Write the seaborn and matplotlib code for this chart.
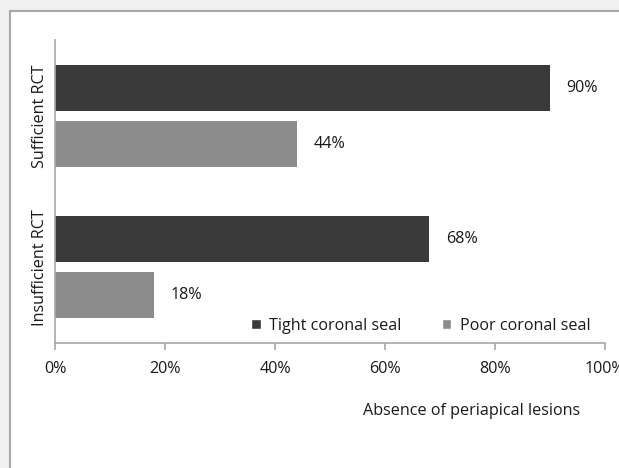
import matplotlib
matplotlib.use("Agg")
import matplotlib.pyplot as plt
from matplotlib.patches import Rectangle
import pandas as pd
import seaborn as sns

# Data: share of teeth without periapical lesions
treatments = ["Sufficient RCT", "Insufficient RCT"]
seal_types = ["Tight coronal seal", "Poor coronal seal"]
tight_values = [90, 68]
poor_values = [44, 18]
x_ticks = [0, 20, 40, 60, 80, 100]

rows = []
for t, tv, pv in zip(treatments, tight_values, poor_values):
    rows.append({"treatment": t, "seal": seal_types[0], "value": tv})
    rows.append({"treatment": t, "seal": seal_types[1], "value": pv})
df = pd.DataFrame(rows)

sns.set_theme(style="white")
plt.rcParams["font.family"] = ["Open Sans", "DejaVu Sans"]

FS = 11.6
TXT = "#1a1a1a"
W, H = 619, 468
fig = plt.figure(figsize=(W / 100, H / 100), dpi=100)
fig.patch.set_facecolor("#f0f0f0")

# white framed panel
panel = Rectangle((9.5 / W, -0.1), 1.2, 1 - 10.5 / H + 0.1,
                  transform=fig.transFigure, facecolor="white",
                  edgecolor="#a8a8a8", linewidth=1.5, zorder=-10)
fig.patches.append(panel)

ax = fig.add_axes([55 / W, 1 - 343 / H, 550 / W, 303 / H])
ax.set_facecolor("none")

palette = {seal_types[0]: "#3a3a3a", seal_types[1]: "#8c8c8c"}
sns.barplot(data=df, y="treatment", x="value", hue="seal", order=treatments,
            hue_order=seal_types, palette=palette, orient="h",
            width=0.739, gap=0.179, saturation=1, ax=ax, legend=False,
            edgecolor="none")

ax.set_xlim(0, 100)
ax.set_ylim(1.5, -0.5)
ax.set_xticks(x_ticks)
ax.set_xticklabels([f"{v}%" for v in x_ticks])
ax.set_xlabel("")
ax.set_ylabel("")

for s in ["top", "right"]:
    ax.spines[s].set_visible(False)
for s in ["left", "bottom"]:
    ax.spines[s].set_color("#a8a8a8")
    ax.spines[s].set_linewidth(1.2)

ax.tick_params(axis="x", bottom=True, length=5, width=1.2, color="#a8a8a8",
               pad=8, labelsize=FS, labelcolor=TXT)
ax.tick_params(axis="y", left=False, length=0, pad=5, labelsize=FS,
               labelcolor=TXT, labelrotation=90)
for lbl in ax.get_yticklabels():
    lbl.set_va("center")

# value labels
for cont in ax.containers:
    for bar in cont:
        v = bar.get_width()
        ax.annotate(f"{v:.0f}%", (v, bar.get_y() + bar.get_height() / 2),
                    xytext=(12, 0), textcoords="offset points",
                    va="center", ha="left", fontsize=FS, color=TXT)

# legend
handles = [Rectangle((0, 0), 1, 1, facecolor=palette[s]) for s in seal_types]
leg = fig.legend(handles, seal_types, loc="center left",
                 bbox_to_anchor=(245 / W, 1 - 326 / H), ncol=2, frameon=False,
                 fontsize=FS, handlelength=0.6, handleheight=0.6,
                 handletextpad=0.5, columnspacing=2.5, borderaxespad=0)
for t in leg.get_texts():
    t.set_color(TXT)

fig.text(472 / W, 1 - 411 / H, "Absence of periapical lesions",
         ha="center", va="center", fontsize=FS, color=TXT)

fig.savefig("out.png", dpi=100, facecolor=fig.get_facecolor())
